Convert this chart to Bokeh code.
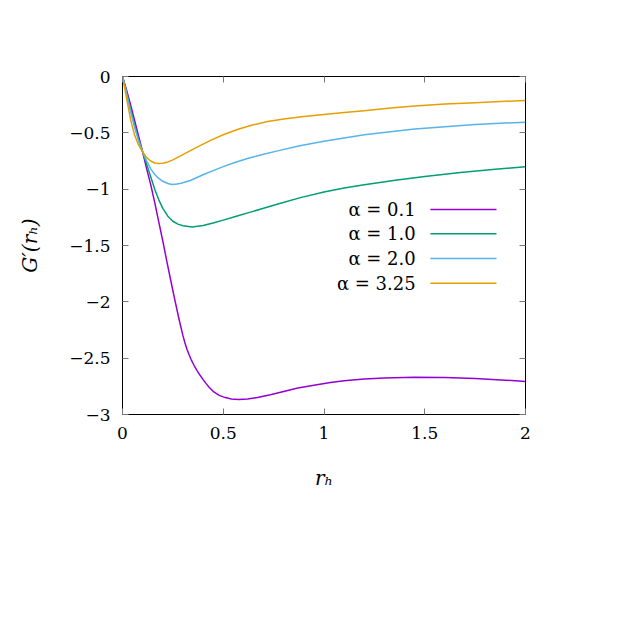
from bokeh.plotting import figure
from bokeh.models import LinearAxis, FixedTicker, CustomJSTickFormatter, Range1d
from bokeh.core.properties import value
from bokeh.embed import file_html
from bokeh.resources import INLINE

# ---- data ----
x_a01 = [0, 0.02, 0.04, 0.06, 0.08, 0.10, 0.12, 0.14, 0.16, 0.18, 0.20, 0.22, 0.24, 0.26, 0.28, 0.30,
         0.31, 0.32, 0.33, 0.34, 0.355, 0.37, 0.385, 0.40, 0.415, 0.43, 0.453, 0.48, 0.51, 0.54, 0.577,
         0.62, 0.67, 0.734, 0.80, 0.87, 0.95, 1.032, 1.10, 1.20, 1.30, 1.446, 1.60, 1.75, 1.90, 2.0]
y_a01 = [0, -0.12, -0.25, -0.39, -0.53, -0.67, -0.82, -0.96, -1.12, -1.29, -1.46, -1.64, -1.815, -1.985, -2.15, -2.30,
         -2.365, -2.42, -2.468, -2.51, -2.563, -2.61, -2.652, -2.69, -2.726, -2.758, -2.80, -2.83, -2.85, -2.862, -2.867,
         -2.862, -2.85, -2.825, -2.795, -2.765, -2.74, -2.717, -2.70, -2.685, -2.675, -2.669, -2.671, -2.68, -2.695, -2.707]

x_a10 = [0, 0.02, 0.04, 0.06, 0.08, 0.10, 0.12, 0.14, 0.16, 0.179, 0.20, 0.225, 0.25, 0.275, 0.30, 0.346,
         0.40, 0.45, 0.50, 0.565, 0.635, 0.70, 0.78, 0.883, 1.0, 1.1, 1.2, 1.363, 1.5, 1.677, 1.85, 2.0]
y_a10 = [0, -0.14, -0.29, -0.43, -0.56, -0.67, -0.78, -0.89, -1.00, -1.09, -1.17, -1.24, -1.285, -1.31, -1.325, -1.335,
         -1.322, -1.30, -1.275, -1.24, -1.204, -1.17, -1.128, -1.075, -1.025, -0.99, -0.96, -0.918, -0.888, -0.852, -0.823, -0.80]

x_a20 = [0, 0.02, 0.04, 0.06, 0.08, 0.10, 0.12, 0.14, 0.16, 0.18, 0.20, 0.225, 0.246, 0.27, 0.29, 0.337,
         0.40, 0.45, 0.50, 0.55, 0.62, 0.70, 0.77, 0.88, 1.0, 1.1, 1.2, 1.33, 1.45, 1.6, 1.75, 1.9, 2.0]
y_a20 = [0, -0.15, -0.31, -0.45, -0.57, -0.67, -0.75, -0.82, -0.87, -0.905, -0.93, -0.95, -0.958, -0.955, -0.948, -0.923,
         -0.872, -0.835, -0.80, -0.768, -0.728, -0.69, -0.66, -0.615, -0.575, -0.545, -0.518, -0.49, -0.467, -0.445, -0.427, -0.413, -0.405]

x_a325 = [0, 0.02, 0.04, 0.06, 0.08, 0.10, 0.12, 0.14, 0.16, 0.18, 0.20, 0.22, 0.25, 0.288, 0.33, 0.38,
          0.44, 0.503, 0.57, 0.64, 0.72, 0.80, 0.90, 1.0, 1.1, 1.2, 1.33, 1.45, 1.6, 1.75, 1.9, 2.0]
y_a325 = [0, -0.19, -0.38, -0.52, -0.61, -0.67, -0.72, -0.75, -0.768, -0.773, -0.77, -0.762, -0.74, -0.705, -0.665, -0.618,
          -0.565, -0.515, -0.47, -0.433, -0.40, -0.378, -0.355, -0.337, -0.32, -0.303, -0.28, -0.262, -0.245, -0.232, -0.22, -0.213]

series_labels = ["α = 0.1", "α = 1.0", "α = 2.0", "α = 3.25"]
series_colors = ["#9400d3", "#009e73", "#56b4e9", "#e69f00"]
x_ticks = [0, 0.5, 1, 1.5, 2]
y_ticks = [0, -0.5, -1, -1.5, -2, -2.5, -3]

SERIF = "DejaVu Serif"

p = figure(width=622, height=622, output_backend="svg", toolbar_location=None,
           x_range=Range1d(0, 2), y_range=Range1d(-3, 0),
           x_axis_label="rₕ", y_axis_label="G′(rₕ)",
           min_border_left=122, min_border_right=97, min_border_top=76, min_border_bottom=208)
p.grid.visible = False
p.outline_line_color = "black"
p.outline_line_width = 1
p.background_fill_color = "white"
p.border_fill_color = "white"

fmt = CustomJSTickFormatter(code="""
if (Math.abs(tick) < 1e-9) { return "0"; }
return tick < 0 ? "\u2212" + (-tick) : "" + tick;
""")

def style_axis(ax, ticks, show_labels):
    ax.ticker = FixedTicker(ticks=ticks)
    ax.formatter = fmt
    ax.axis_line_color = None
    ax.major_tick_in = 6
    ax.major_tick_out = 0
    ax.major_tick_line_color = "#777777"
    ax.major_tick_line_width = 1
    ax.minor_tick_line_color = None
    ax.major_label_text_font = SERIF
    ax.major_label_text_font_size = "17px"
    ax.major_label_text_color = "black"
    ax.axis_label_text_font = SERIF
    ax.axis_label_text_font_size = "20px"
    ax.axis_label_text_font_style = "italic"
    ax.axis_label_text_color = "black"
    if not show_labels:
        ax.major_label_text_alpha = 0
        ax.major_label_text_font_size = "1px"

style_axis(p.xaxis[0], x_ticks, True)
style_axis(p.yaxis[0], y_ticks, True)
p.xaxis[0].major_label_standoff = 12
p.xaxis[0].axis_label_standoff = 24
p.yaxis[0].major_label_standoff = 12
p.yaxis[0].axis_label_standoff = 24

top_ax = LinearAxis()
style_axis(top_ax, x_ticks, False)
p.add_layout(top_ax, "above")
right_ax = LinearAxis()
style_axis(right_ax, y_ticks, False)
p.add_layout(right_ax, "right")

xs = [x_a01, x_a10, x_a20, x_a325]
ys = [y_a01, y_a10, y_a20, y_a325]
for xv, yv, c in zip(xs, ys, series_colors):
    p.line(xv, yv, line_color=c, line_width=1.5, line_join="round")

# manual legend (text left, sample line right), like the gnuplot key
leg_text_x = 1.455
leg_line_x0, leg_line_x1 = 1.528, 1.856
leg_y = [-1.18, -1.395, -1.615, -1.835]
p.text(x=[leg_text_x] * 4, y=leg_y, text=series_labels,
       text_font=value(SERIF), text_font_size="18px", text_align="right",
       text_baseline="middle", text_color="black")
p.segment(x0=[leg_line_x0] * 4, x1=[leg_line_x1] * 4, y0=leg_y, y1=leg_y,
          line_color=series_colors, line_width=1.5)

open("out.html", "w").write(file_html(p, INLINE))
